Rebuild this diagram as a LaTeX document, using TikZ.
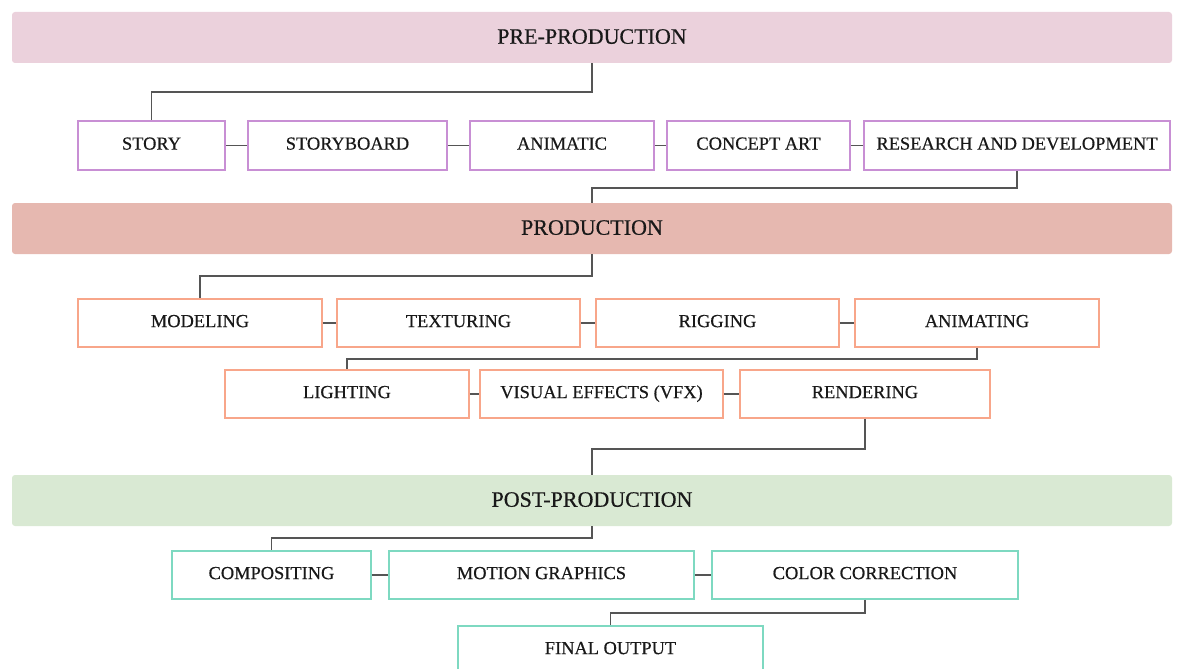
\documentclass[tikz,border=0pt]{standalone}
\usepackage{fontspec}
\setmainfont{Liberation Serif}[FakeBold=0.5]
\usetikzlibrary{positioning, calc}
\definecolor{prepink}{RGB}{235, 209, 220}
\definecolor{prepurple}{RGB}{200, 143, 212}
\definecolor{prodrose}{RGB}{230, 184, 176}
\definecolor{prodsalmon}{RGB}{248, 166, 138}
\definecolor{postgreen}{RGB}{217, 233, 211}
\definecolor{postteal}{RGB}{126, 217, 193}
\definecolor{linkgray}{RGB}{85, 85, 85}

\begin{document}
\begin{tikzpicture}[x=1pt, y=-1pt,
    every node/.style={align=center, inner sep=0pt, text=black!90},
    phase/.style={rounded corners=3pt, minimum width=1160pt, minimum height=51pt,
      font=\fontsize{22}{26}\selectfont, text height=14.5pt, text depth=2pt},
    task/.style={draw, line width=1.6pt, fill=white, minimum height=48pt,
      font=\fontsize{18.4}{22}\selectfont, text height=12.2pt, text depth=4pt},
    link/.style={draw=linkgray, line width=1.5pt}]
    \path[use as bounding box, clip] (0,0) rectangle (1178,669);

    % phase bands
    \node[phase, fill=prepink]   (pre)  at (592, 37.5)  {PRE-PRODUCTION};
    \node[phase, fill=prodrose]  (prod) at (592, 228.5) {PRODUCTION};
    \node[phase, fill=postgreen] (post) at (592, 500.5) {POST-PRODUCTION};

    % pre-production tasks
    \node[task, draw=prepurple, minimum width=147pt, minimum height=49pt] (story)   at (151.5, 145.5) {STORY};
    \node[task, draw=prepurple, minimum width=199pt, minimum height=49pt] (board)   at (347.5, 145.5) {STORYBOARD};
    \node[task, draw=prepurple, minimum width=184pt, minimum height=49pt] (animatic) at (562, 145.5) {ANIMATIC};
    \node[task, draw=prepurple, minimum width=183pt, minimum height=49pt] (concept) at (758.5, 145.5) {CONCEPT ART};
    \node[task, draw=prepurple, minimum width=306pt, minimum height=49pt] (rnd)     at (1017, 145.5) {RESEARCH AND DEVELOPMENT};

    % production tasks
    \node[task, draw=prodsalmon, minimum width=244pt] (model)   at (200, 323)   {MODELING};
    \node[task, draw=prodsalmon, minimum width=243pt] (texture) at (458.5, 323) {TEXTURING};
    \node[task, draw=prodsalmon, minimum width=243pt] (rig)     at (717.5, 323) {RIGGING};
    \node[task, draw=prodsalmon, minimum width=244pt] (animate) at (977, 323)   {ANIMATING};
    \node[task, draw=prodsalmon, minimum width=244pt] (light)   at (347, 394)   {LIGHTING};
    \node[task, draw=prodsalmon, minimum width=243pt] (vfx)     at (601.5, 394) {VISUAL EFFECTS (VFX)};
    \node[task, draw=prodsalmon, minimum width=250pt] (render)  at (865, 394)   {RENDERING};

    % post-production tasks
    \node[task, draw=postteal, minimum width=199pt] (comp)   at (271.5, 575) {COMPOSITING};
    \node[task, draw=postteal, minimum width=305pt] (motion) at (541.5, 575) {MOTION GRAPHICS};
    \node[task, draw=postteal, minimum width=306pt] (color)  at (865, 575)   {COLOR CORRECTION};
    \node[task, draw=postteal, minimum width=305pt] (final)  at (610.5, 650) {FINAL OUTPUT};

    % elbow links between stages
    \draw[link] (pre.south)     -- ++(0,29) -| (story.north);
    \draw[link] (rnd.south)     -- ++(0,17) -| (prod.north);
    \draw[link] (prod.south)    -- ++(0,22) -| (model.north);
    \draw[link] (animate.south) -- ++(0,11) -| (light.north);
    \draw[link] (render.south)  -- ++(0,30) -| (post.north);
    \draw[link] (post.south)    -- ++(0,12) -| (comp.north);
    \draw[link] (color.south)   -- ++(0,13) -| (final.north);

    % links along each row
    \draw[link] (story.east)    -- (board.west);
    \draw[link] (board.east)    -- (animatic.west);
    \draw[link] (animatic.east) -- (concept.west);
    \draw[link] (concept.east)  -- (rnd.west);
    \draw[link] (model.east)    -- (texture.west);
    \draw[link] (texture.east)  -- (rig.west);
    \draw[link] (rig.east)      -- (animate.west);
    \draw[link] (light.east)    -- (vfx.west);
    \draw[link] (vfx.east)      -- (render.west);
    \draw[link] (comp.east)     -- (motion.west);
    \draw[link] (motion.east)   -- (color.west);
  \end{tikzpicture}
\end{document}
